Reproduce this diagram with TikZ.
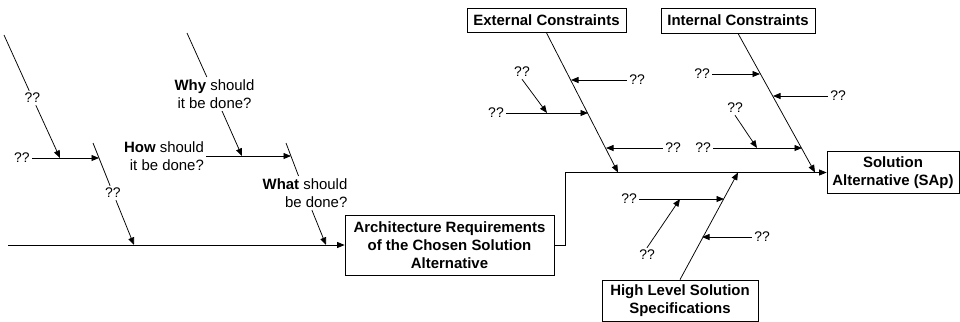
\documentclass[tikz,border=0pt]{standalone}
\usepackage{fontspec}
\setmainfont{Liberation Sans}
\usetikzlibrary{arrows.meta}

\begin{document}
\begin{tikzpicture}[
      x=1bp, y=-1bp,
      line width=0.75bp,
      box/.style={draw, font=\fontsize{15}{18}\selectfont\bfseries, align=center, inner sep=0pt},
      qq/.style={font=\fontsize{14}{16}\selectfont, inner sep=2bp},
      txt/.style={font=\fontsize{15}{18.5}\selectfont, inner sep=2bp},
      arr/.style={-{Triangle[length=7.5bp,width=6bp]}}
    ]
    \useasboundingbox (0,0) rectangle (960,321);

    % Boxes
    \node[box, minimum width=209bp, minimum height=60bp] (arch) at (449.5,245) {Architecture Requirements\\of the Chosen Solution\\Alternative};
    \node[box, minimum width=159bp, minimum height=24bp] (ext) at (546.5,20.5) {External Constraints};
    \node[box, minimum width=154bp, minimum height=25bp] (int) at (738,20.5) {Internal Constraints};
    \node[box, minimum width=132bp, minimum height=42bp] (sap) at (893,172.5) {Solution\\Alternative (SAp)};
    \node[box, minimum width=156bp, minimum height=41bp] (hls) at (680,300.5) {High Level Solution\\Specifications};

    % Left spine
    \coordinate (a0) at (8,245);
    \draw[arr] (a0) -- (arch.west);

    % First bone
    \coordinate (b1top) at (4,35);
    \node[qq] (q1) at (32.5,98) {??};
    \coordinate (b1end) at (60,158);
    \draw (b1top) -- (q1);
    \draw[arr] (q1) -- (b1end);
    \node[qq] (q2) at (22,158) {??};
    \coordinate (b2hit) at (99,158);
    \draw[arr] (q2) -- (b2hit);

    % Second bone
    \coordinate (b2top) at (93,143);
    \node[qq] (q3) at (113,193) {??};
    \coordinate (b2end) at (134,245);
    \draw (b2top) -- (q3);
    \draw[arr] (q3) -- (b2end);

    % Why / How / What
    \coordinate (wtop) at (187,33);
    \node[txt, align=center] (why) at (214.5,94) {\textbf{Why} should\\it be done?};
    \coordinate (wend) at (242,156);
    \draw (wtop) -- (why);
    \draw[arr] (why) -- (wend);

    \node[txt, align=right] (how) at (164,156) {\textbf{How} should\\it be done?};
    \coordinate (hend) at (291,156);
    \draw[arr] (how) -- (hend);

    \coordinate (ttop) at (286,143);
    \node[txt, align=right] (what) at (305,193) {\textbf{What} should\\be done?};
    \coordinate (tend) at (326,245);
    \draw (ttop) -- (what);
    \draw[arr] (what) -- (tend);

    % Right spine and bones
    \coordinate (sp) at (565,172.5);
    \draw[arr] (arch.east) -| (sp) -- (sap.west);
    \coordinate (extend) at (618,172.5);
    \coordinate (intend) at (815,172.5);
    \coordinate (hlsend) at (738,172.5);
    \draw[arr] (ext.south) -- (extend);
    \draw[arr] (int.south) -- (intend);
    \draw[arr] (hls.north) -- (hlsend);

    % Straight causes
    \foreach \n/\lx/\ly/\tx/\ty in {e1/637/80/571/80, e2/496/113/588/113, e4/673/148/606/148,
        i1/702/74/760/74, i2/838/96/773/96, i3/703/148/802/148,
        h1/629/199/724/199, h3/762/237/702/237} {
      \node[qq] (\n) at (\lx,\ly) {??};
      \coordinate (\n t) at (\tx,\ty);
      \draw[arr] (\n) -- (\n t);
    }

    % Slanted causes
    \foreach \n/\lx/\ly/\an/\tx/\ty in {e3/522/72/south/547/113, i4/735/108/south/757/148,
        h2/647/255/north/680/199} {
      \node[qq] (\n) at (\lx,\ly) {??};
      \coordinate (\n t) at (\tx,\ty);
      \draw[arr] (\n.\an) -- (\n t);
    }
  \end{tikzpicture}
\end{document}
